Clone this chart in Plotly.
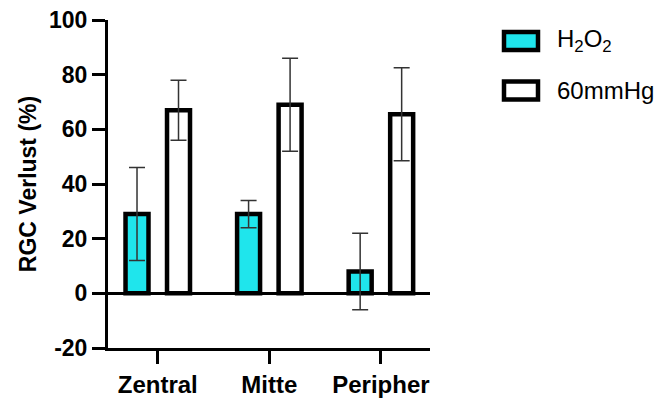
import plotly.graph_objects as go

# Regions of the retina
categories = ["Zentral", "Mitte", "Peripher"]

# RGC loss (%) with standard deviations
h2o2_mean = [29, 29, 8]
h2o2_sd = [17, 5, 14]
mmhg_mean = [67, 69, 65.5]
mmhg_sd = [11, 17, 17]

y_ticks = [-20, 0, 20, 40, 60, 80, 100]
y_tick_text = ["-20", "0", "20", "40", "60", "80", "100"]

FONT = "Arial, Liberation Sans, sans-serif"
CYAN = "#1FE5EC"

W, H = 666, 399
L, R, T, B = 108, 236, 20, 51

bar_w = 0.206
half_gap = 0.186

err_style = dict(type="data", visible=True, color="#333333", thickness=1.5, width=8)

fig = go.Figure()
fig.add_trace(go.Bar(
    x=categories, y=h2o2_mean,
    width=bar_w, offset=-half_gap - bar_w / 2,
    marker=dict(color=CYAN, line=dict(color="black", width=4.5)),
    error_y=dict(array=h2o2_sd, **err_style),
    showlegend=False,
))
fig.add_trace(go.Bar(
    x=categories, y=mmhg_mean,
    width=bar_w, offset=half_gap - bar_w / 2,
    marker=dict(color="white", line=dict(color="black", width=4.5)),
    error_y=dict(array=mmhg_sd, **err_style),
    showlegend=False,
))

# Legend drawn as boxes with labels, positioned in pixels relative to the plot area
pw, ph = W - L - R, H - T - B


def px_x(x):
    return (x - L) / pw


def px_y(y):
    return (H - B - y) / ph


legend_items = [("H<sub>2</sub>O<sub>2</sub>", CYAN, 41), ("60mmHg", "white", 90.5)]
for label, fill, cy in legend_items:
    fig.add_shape(
        type="rect", xref="paper", yref="paper",
        x0=px_x(504), x1=px_x(538), y0=px_y(cy + 9), y1=px_y(cy - 9),
        fillcolor=fill, line=dict(color="black", width=4.5),
    )
    fig.add_annotation(
        x=px_x(555), y=px_y(cy), xref="paper", yref="paper",
        text=label, showarrow=False, xanchor="left", yanchor="middle",
        font=dict(family=FONT, size=24, color="black"),
    )

fig.update_layout(
    width=W, height=H,
    margin=dict(l=L, r=R, t=T, b=B, pad=0, autoexpand=False),
    plot_bgcolor="white", paper_bgcolor="white",
    barmode="overlay",
    font=dict(family=FONT, color="black"),
    xaxis=dict(
        range=[-0.446, 2.44],
        automargin=False,
        showline=True, linecolor="black", linewidth=3,
        ticks="outside", ticklen=13, tickwidth=3, tickcolor="black",
        tickfont=dict(family=FONT, size=24, color="black", weight="bold"),
        showgrid=False, zeroline=False,
    ),
    yaxis=dict(
        range=[-20, 100],
        automargin=False,
        tickvals=y_ticks, ticktext=y_tick_text,
        showline=True, linecolor="black", linewidth=3,
        ticks="outside", ticklen=13, tickwidth=3, tickcolor="black",
        tickfont=dict(family=FONT, size=23, color="black", weight="bold"),
        title=dict(text="RGC Verlust (%)", standoff=6,
                   font=dict(family=FONT, size=23, color="black", weight="bold")),
        showgrid=False,
        zeroline=True, zerolinecolor="black", zerolinewidth=3,
    ),
)

fig.write_html("out.html")
